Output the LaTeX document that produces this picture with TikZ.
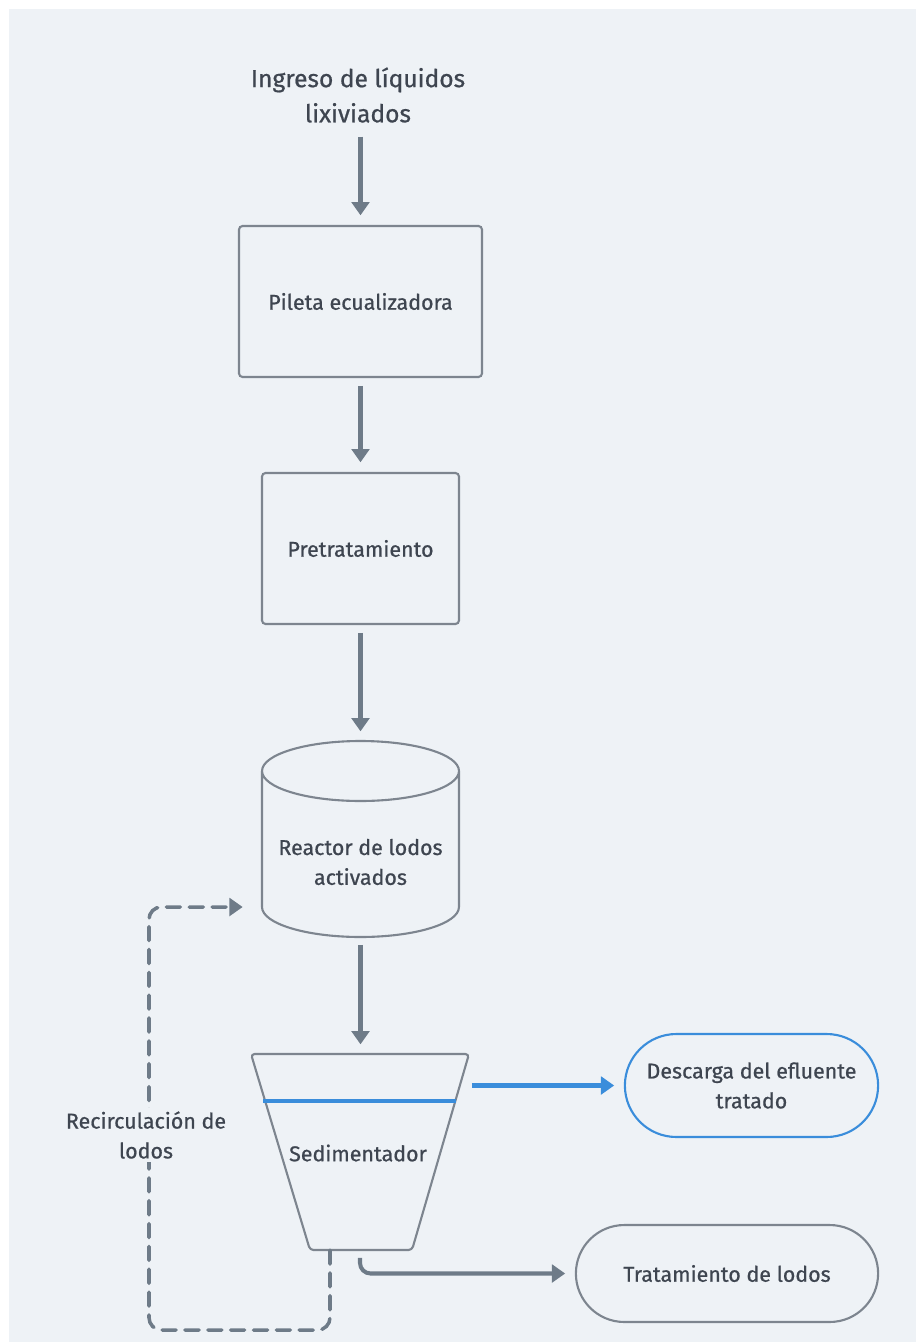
\documentclass[tikz,border=0pt]{standalone}
\usepackage{fontspec}
\setmainfont{Fira Sans}[FakeBold=0.7]
\usetikzlibrary{arrows.meta,shapes.misc,calc}
\definecolor{bgpanel}{HTML}{EEF2F6}
\definecolor{flowgray}{HTML}{6E7B88}
\definecolor{edgegray}{HTML}{7D858F}
\definecolor{labelgray}{HTML}{3E4550}
\definecolor{flowblue}{HTML}{3A8DDB}
\tikzset{
  stagetext/.style={text=labelgray, align=center, font=\fontsize{12.2}{17}\selectfont},
  stagebox/.style={stagetext, draw=edgegray, line width=1.2pt, rounded corners=2pt},
  endbox/.style={stagetext, rounded rectangle, draw=edgegray, line width=1.2pt},
  vessel/.style={draw=edgegray, line width=1.2pt, line join=round},
  flow/.style={draw=flowgray, line width=2.3pt, -{Triangle[length=7.5pt,width=10pt]}, shorten <=4.5pt, shorten >=5.5pt},
  recirc/.style={draw=flowgray, line width=2pt, dash pattern=on 8pt off 5pt, line cap=round, rounded corners=7pt, -{Triangle[length=7.5pt,width=10pt]}},
}
\begin{document}
\begin{tikzpicture}[x=0.02cm, y=-0.02cm]
\fill[white] (0,0) rectangle (916,1342);
\fill[bgpanel] (9,9) rectangle (916,1342);
% inflow and first stages
\node[stagetext, font=\fontsize{14}{20}\selectfont] (ingreso) at (358,95) {Ingreso de líquidos\\lixiviados};
\node[stagebox, minimum width=4.86cm, minimum height=3.02cm] (pileta) at (360.5,301.5) {Pileta ecualizadora};
\node[stagebox, minimum width=3.94cm, minimum height=3.02cm] (pretrat) at (360.5,548.5) {Pretratamiento};
% reactor (cylinder)
\draw[vessel] (262,771) -- (262,907) arc[start angle=180, end angle=360, x radius=1.97cm, y radius=0.6cm]
  -- (459,771) arc[start angle=0, end angle=360, x radius=1.97cm, y radius=0.6cm];
\node[stagetext] (reactor) at (360.5,862) {Reactor de lodos\\activados};
\coordinate (reactortop) at (360.5,741);
\coordinate (reactorbot) at (360.5,937);
\coordinate (reactorside) at (262,907);
% sedimentador (trapezoid)
\draw[vessel, rounded corners=2pt] (251,1054) -- (469,1054) -- (412,1250) -- (310,1250) -- cycle;
\draw[flowblue, line width=2pt] (263,1101) -- (456,1101);
\node[stagetext] (sedim) at (358,1153) {Sedimentador};
\coordinate (sedtop) at (360.5,1054);
\coordinate (sedout) at (464,1085.5);
\coordinate (sedbot) at (360,1250);
\coordinate (sedpurge) at (330,1250);
% outlets
\node[endbox, draw=flowblue, minimum width=5.3cm, minimum height=2.06cm] (descarga) at (751.5,1085.5) {Descarga del efluente\\tratado};
\node[endbox, minimum width=6.28cm, minimum height=1.94cm] (lodos) at (727,1273.5) {Tratamiento de lodos};
% connectors
\draw[flow] (ingreso.south -| pileta.north) -- (pileta.north);
\draw[flow] (pileta) -- (pretrat);
\draw[flow] (pretrat) -- (reactortop);
\draw[flow] (reactorbot) -- (sedtop);
\draw[flow, draw=flowblue] (sedout) -- (descarga.west);
\draw[flow, rounded corners=6pt] (sedbot) -- (sedbot |- lodos.west) -- (lodos.west);
\draw[recirc, shorten >=11pt] (sedpurge) -- (330,1330) -- (149,1330) -- (149,907) -- (reactorside);
\node[stagetext, fill=bgpanel, inner sep=2pt] (recirclabel) at (146,1135) {Recirculación de\\lodos};
\end{tikzpicture}
\end{document}
